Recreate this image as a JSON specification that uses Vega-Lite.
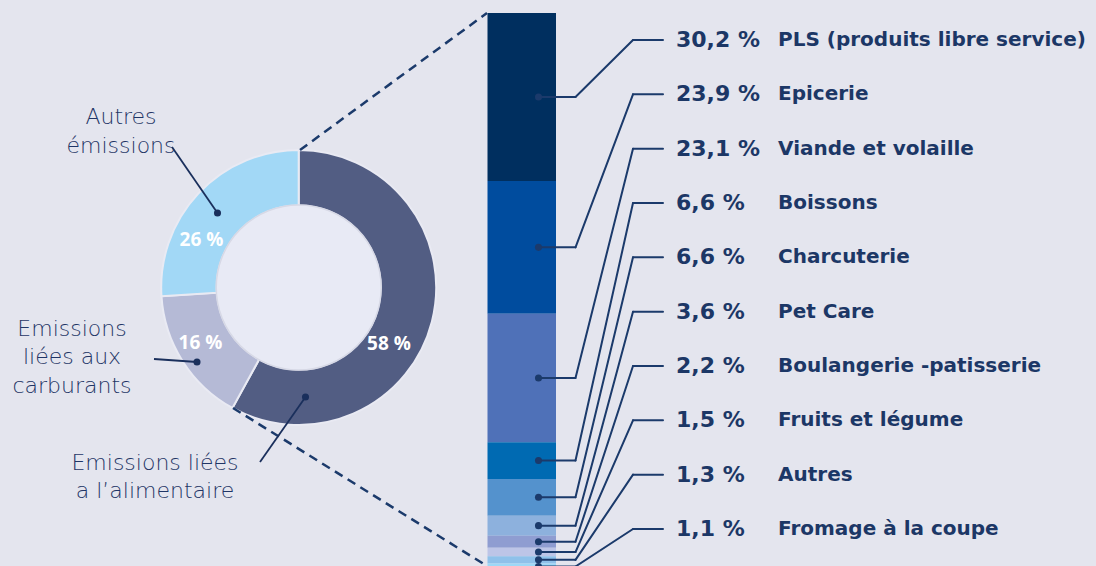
{
  "$schema": "https://vega.github.io/schema/vega-lite/v6.json",
  "width": 1096,
  "height": 566,
  "autosize": "none",
  "padding": 0,
  "background": "#e4e5ee",
  "config": {"view": {"stroke": null}, "font": "DejaVu Sans"},
  "datasets": {
    "donut": [
      {"cat": "Emissions liées a l’alimentaire", "value": 58, "order": 1},
      {"cat": "Emissions liées aux carburants", "value": 16, "order": 2},
      {"cat": "Autres émissions", "value": 26, "order": 3}
    ],
    "bar": [
      {"cat": "PLS (produits libre service)", "pct": 30.2, "order": 1},
      {"cat": "Epicerie", "pct": 23.9, "order": 2},
      {"cat": "Viande et volaille", "pct": 23.1, "order": 3},
      {"cat": "Boissons", "pct": 6.6, "order": 4},
      {"cat": "Charcuterie", "pct": 6.6, "order": 5},
      {"cat": "Pet Care", "pct": 3.6, "order": 6},
      {"cat": "Boulangerie -patisserie", "pct": 2.2, "order": 7},
      {"cat": "Fruits et légume", "pct": 1.5, "order": 8},
      {"cat": "Autres", "pct": 1.3, "order": 9},
      {"cat": "Fromage à la coupe", "pct": 1.1, "order": 10}
    ]
  },
  "layer": [
    {
      "data": {"name": "donut"},
      "transform": [
        {"stack": "value", "groupby": [], "sort": [{"field": "order", "order": "ascending"}], "as": ["t0", "t1"]},
        {"calculate": "datum.value + ' %'", "as": "lbl"}
      ],
      "layer": [
        {
          "mark": {"type": "arc", "outerRadius": 137.5, "innerRadius": 82, "stroke": "#e9eaf3", "strokeWidth": 2},
          "encoding": {
            "x": {"datum": 298.7, "scale": {"domain": [0, 1096], "nice": false, "zero": false}, "axis": null},
            "y": {"datum": 49.37, "scale": {"domain": [-2.338, 99.46], "reverse": true, "nice": false, "zero": false}, "axis": null},
            "theta": {"field": "t0", "type": "quantitative", "scale": {"domain": [0, 100]}},
            "theta2": {"field": "t1"},
            "color": {
              "field": "cat", "type": "nominal", "legend": null,
              "scale": {
                "domain": ["Emissions liées a l’alimentaire", "Emissions liées aux carburants", "Autres émissions", "PLS (produits libre service)", "Epicerie", "Viande et volaille", "Boissons", "Charcuterie", "Pet Care", "Boulangerie -patisserie", "Fruits et légume", "Autres", "Fromage à la coupe"],
                "range": ["#525d83", "#b5bad6", "#a2d8f6", "#002f5f", "#004c9e", "#4f71b8", "#006ab2", "#5492cd", "#8db1dd", "#8f9dd1", "#bdc5e7", "#8fc1ea", "#9dd8f7"]
              }
            }
          }
        },
        {
          "transform": [{"filter": "datum.order == 1"}],
          "mark": {"type": "point", "shape": "circle", "filled": true, "size": 27225, "fill": "#e8eaf5", "stroke": "#d7d9e6", "strokeWidth": 1.5, "opacity": 1},
          "encoding": {"x": {"datum": 298.7}, "y": {"datum": 49.37}}
        },
        {
          "transform": [{"filter": "datum.order == 1"}],
          "mark": {"type": "text", "fill": "#ffffff", "font": "Open Sans", "fontSize": 19, "fontWeight": 700, "align": "center", "baseline": "middle"},
          "encoding": {"x": {"datum": 389}, "y": {"datum": 59.62}, "text": {"field": "lbl"}}
        },
        {
          "transform": [{"filter": "datum.order == 2"}],
          "mark": {"type": "text", "fill": "#ffffff", "font": "Open Sans", "fontSize": 19, "fontWeight": 700, "align": "center", "baseline": "middle"},
          "encoding": {"x": {"datum": 200.5}, "y": {"datum": 59.4}, "text": {"field": "lbl"}}
        },
        {
          "transform": [{"filter": "datum.order == 3"}],
          "mark": {"type": "text", "fill": "#ffffff", "font": "Open Sans", "fontSize": 19, "fontWeight": 700, "align": "center", "baseline": "middle"},
          "encoding": {"x": {"datum": 201.5}, "y": {"datum": 40.83}, "text": {"field": "lbl"}}
        },
        {
          "transform": [{"filter": "datum.order == 1"}],
          "mark": {"type": "rule", "stroke": "#1b3a6b", "strokeWidth": 2.5, "strokeDash": [9, 6]},
          "encoding": {"x": {"datum": 300}, "y": {"datum": 24.64}, "x2": {"datum": 487}, "y2": {"datum": 0}}
        },
        {
          "transform": [{"filter": "datum.order == 1"}],
          "mark": {"type": "rule", "stroke": "#1b3a6b", "strokeWidth": 2.5, "strokeDash": [9, 6]},
          "encoding": {"x": {"datum": 233}, "y": {"datum": 71.04}, "x2": {"datum": 487}, "y2": {"datum": 99.46}}
        },
        {
          "transform": [{"filter": "datum.order == 3"}],
          "mark": {"type": "rule", "stroke": "#1a2f5c", "strokeWidth": 1.8},
          "encoding": {"x": {"datum": 172}, "y": {"datum": 24.1}, "x2": {"datum": 217.5}, "y2": {"datum": 35.97}}
        },
        {
          "transform": [{"filter": "datum.order == 3"}],
          "mark": {"type": "point", "shape": "circle", "filled": true, "size": 50, "color": "#1a2f5c", "opacity": 1},
          "encoding": {"x": {"datum": 217.5}, "y": {"datum": 35.97}}
        },
        {
          "transform": [{"filter": "datum.order == 2"}],
          "mark": {"type": "rule", "stroke": "#1a2f5c", "strokeWidth": 1.8},
          "encoding": {"x": {"datum": 154}, "y": {"datum": 62.23}, "x2": {"datum": 197}, "y2": {"datum": 62.77}}
        },
        {
          "transform": [{"filter": "datum.order == 2"}],
          "mark": {"type": "point", "shape": "circle", "filled": true, "size": 50, "color": "#1a2f5c", "opacity": 1},
          "encoding": {"x": {"datum": 197}, "y": {"datum": 62.77}}
        },
        {
          "transform": [{"filter": "datum.order == 1"}],
          "mark": {"type": "rule", "stroke": "#1a2f5c", "strokeWidth": 1.8},
          "encoding": {"x": {"datum": 260}, "y": {"datum": 80.76}, "x2": {"datum": 305.5}, "y2": {"datum": 69.06}}
        },
        {
          "transform": [{"filter": "datum.order == 1"}],
          "mark": {"type": "point", "shape": "circle", "filled": true, "size": 50, "color": "#1a2f5c", "opacity": 1},
          "encoding": {"x": {"datum": 305.5}, "y": {"datum": 69.06}}
        },
        {
          "transform": [{"filter": "datum.order == 3"}],
          "mark": {"type": "text", "fill": "#1f3566", "fontSize": 22, "fontWeight": 200, "align": "center", "baseline": "alphabetic", "lineHeight": 29},
          "encoding": {"x": {"datum": 121}, "y": {"datum": 20.05}, "text": {"value": ["Autres", "émissions"]}}
        },
        {
          "transform": [{"filter": "datum.order == 2"}],
          "mark": {"type": "text", "fill": "#1f3566", "fontSize": 22, "fontWeight": 200, "align": "center", "baseline": "alphabetic", "lineHeight": 28.5},
          "encoding": {"x": {"datum": 72}, "y": {"datum": 58.09}, "text": {"value": ["Emissions", "liées aux", "carburants"]}}
        },
        {
          "transform": [{"filter": "datum.order == 1"}],
          "mark": {"type": "text", "fill": "#1f3566", "fontSize": 22, "fontWeight": 200, "align": "center", "baseline": "alphabetic", "lineHeight": 28},
          "encoding": {"x": {"datum": 155}, "y": {"datum": 82.19}, "text": {"value": ["Emissions liées", "a l’alimentaire"]}}
        }
      ]
    },
    {
      "data": {"name": "bar"},
      "transform": [
        {"stack": "pct", "groupby": [], "sort": [{"field": "order", "order": "ascending"}], "as": ["y0", "y1"]},
        {"calculate": "(datum.y0 + datum.y1) / 2", "as": "mid"},
        {"calculate": "4.856 + (datum.order - 1) * 9.772", "as": "labelY"},
        {"calculate": "replace(format(datum.pct, '.1f'), '.', ',') + ' %'", "as": "pctLabel"}
      ],
      "layer": [
        {
          "mark": {"type": "rect", "clip": true},
          "encoding": {
            "x": {"datum": 487.5}, "x2": {"datum": 556},
            "y": {"field": "y0", "type": "quantitative"}, "y2": {"field": "y1"},
            "color": {"field": "cat", "type": "nominal", "legend": null}
          }
        },
        {
          "mark": {"type": "rule", "stroke": "#1b3a6b", "strokeWidth": 2, "strokeCap": "round"},
          "encoding": {"x": {"datum": 538.5}, "x2": {"datum": 575.5}, "y": {"field": "mid", "type": "quantitative"}}
        },
        {
          "mark": {"type": "rule", "stroke": "#1b3a6b", "strokeWidth": 2, "strokeCap": "round"},
          "encoding": {"x": {"datum": 575.5}, "x2": {"datum": 633}, "y": {"field": "mid", "type": "quantitative"}, "y2": {"field": "labelY"}}
        },
        {
          "mark": {"type": "rule", "stroke": "#1b3a6b", "strokeWidth": 2, "strokeCap": "round"},
          "encoding": {"x": {"datum": 633}, "x2": {"datum": 663}, "y": {"field": "labelY", "type": "quantitative"}}
        },
        {
          "mark": {"type": "point", "shape": "circle", "filled": true, "size": 50, "color": "#1b3a6b", "opacity": 1},
          "encoding": {"x": {"datum": 538.5}, "y": {"field": "mid", "type": "quantitative"}}
        },
        {
          "mark": {"type": "text", "fill": "#1c3766", "fontSize": 22, "fontWeight": 700, "align": "left", "baseline": "middle"},
          "encoding": {"x": {"datum": 676}, "y": {"field": "labelY", "type": "quantitative"}, "text": {"field": "pctLabel"}}
        },
        {
          "mark": {"type": "text", "fill": "#1c3766", "fontSize": 20, "fontWeight": 700, "align": "left", "baseline": "middle"},
          "encoding": {"x": {"datum": 778}, "y": {"field": "labelY", "type": "quantitative"}, "text": {"field": "cat"}}
        }
      ]
    }
  ]
}
